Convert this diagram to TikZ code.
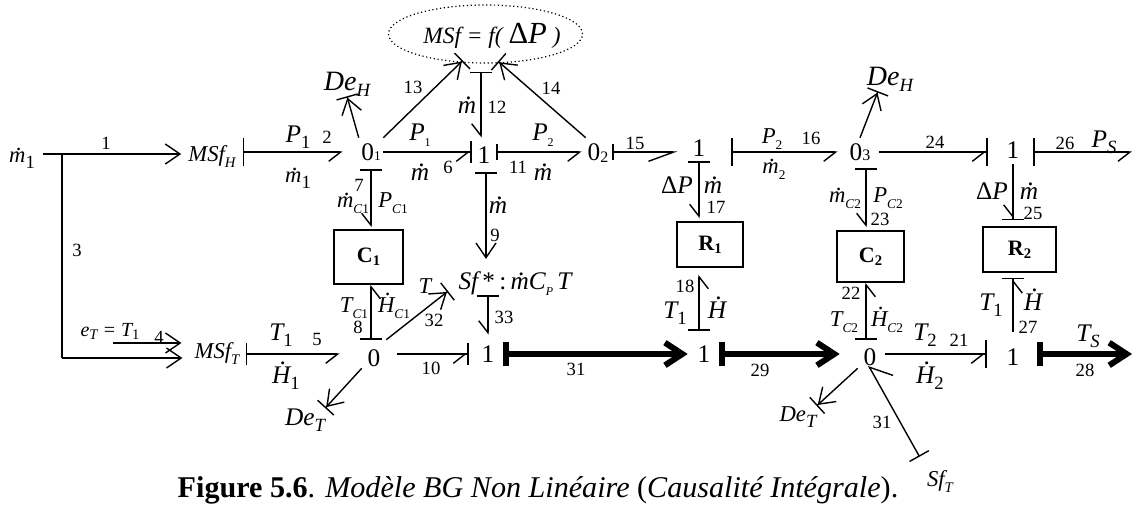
\documentclass[tikz,border=0pt]{standalone}
\usepackage{fontspec}
\setmainfont{Liberation Serif}
\usetikzlibrary{arrows.meta,shapes.geometric}
\def\px{0.75pt}
\newcommand{\dt}[2][.52em]{\ooalign{#2\crcr\hidewidth\kern.12em{\upshape\raisebox{#1}{.}}\hidewidth\crcr}}
\newcommand{\ix}[2][14]{\raisebox{-4.5pt}{\fontsize{#1}{#1}\selectfont #2}}
\newcommand{\ixu}[2][14]{\ix[#1]{\upshape #2}}
\newcommand{\ixb}[1]{\raisebox{-2.5pt}{\fontsize{11}{11}\selectfont #1}}
\newcommand{\ixz}[2][10]{{\fontsize{#1}{#1}\selectfont #2}}
\newcommand{\Hd}{\dt[.74em]{H}}
\newcommand{\md}{\dt{m}}

\begin{document}
\begin{tikzpicture}[x=0.75pt, y=-0.75pt,
    hb/.tip={Straight Barb[harpoon, swap, length=9pt, width=14pt, sep=0pt]},
    hbl/.tip={Straight Barb[harpoon, swap, length=19pt, width=14pt, sep=0pt]},
    hbw/.tip={Straight Barb[harpoon, swap, length=14pt, width=25pt, sep=0pt]},
    fb/.tip={Straight Barb[length=11pt, width=15pt, sep=0pt]},
    st/.tip={Bar[width=16.5pt, sep=0pt]},
    stl/.tip={Bar[width=21pt, sep=0pt]},
    sts/.tip={Bar[width=12pt, sep=0pt]},
    tk/.tip={Straight Barb[length=13pt, width=17pt, sep=0pt]},
    tks/.tip={Bar[width=18pt, line width=4.5pt, sep=0pt]},
    bond/.style={draw=black, line width=1.05pt},
    thk/.style={draw=black, line width=4.5pt},
    sa/.style={shorten <=#1*\px},
    sb/.style={shorten >=#1*\px},
    jn/.style={font=\fontsize{19}{19}\selectfont, inner sep=0pt, text height=12.5pt,
               text depth=0pt, minimum width=24*\px, minimum height=28*\px},
    elem/.style={draw=black, line width=1.05pt, inner sep=0pt,
                 font=\fontsize{16.5}{16.5}\selectfont\bfseries},
    num/.style={font=\fontsize{14}{14}\selectfont, inner sep=0pt},
    sym/.style={font=\fontsize{19}{19}\selectfont\itshape, inner sep=0pt, anchor=base},
    msym/.style={font=\fontsize{17}{17}\selectfont\itshape, inner sep=0pt, anchor=base},
    big/.style={font=\fontsize{21}{21}\selectfont\itshape, inner sep=0pt, anchor=base}]
  \useasboundingbox (0,0) rectangle (1132,504);
  % --- junctions ------------------------------------------------------------
  \foreach \nm/\x/\y/\txt in {j01/371/152/{0\ixz{1}}, j1c/484/152/{\raisebox{-2pt}{1}},
      j02/598/152/{0\raisebox{-1.5pt}{\ixz[12]{2}}}, j1r/699/152/{\raisebox{3pt}{1}}, j03/860/152/{0\ixz[12]{3}},
      j1s/1013/152/{\raisebox{1.5pt}{1}}, j0a/374/354/{\raisebox{-3pt}{0}},
      j1b/488/354/{1}, j1d/704/354/{1}, j0b/870/354/{\raisebox{-2.5pt}{0}},
      j1e/1013/354/{\raisebox{-2.5pt}{1}}} {
    \node[jn] (\nm) at (\x,\y) {\txt}; }
  % --- elements -------------------------------------------------------------
  \node[elem, minimum width=69*\px, minimum height=54*\px] (c1) at (368.5,257) {C\ixb{1}};
  \node[elem, minimum width=67*\px, minimum height=51*\px] (c2) at (870.5,256.5) {C\ixb{2}};
  \node[elem, minimum width=66*\px, minimum height=45*\px] (r1) at (710,244.5) {R\ixb{1}};
  \node[elem, minimum width=73*\px, minimum height=45*\px] (r2) at (1019.5,249.5) {R\ixb{2}};
  \node[ellipse, draw=black, dotted, line width=0.9pt, inner sep=0pt,
        minimum width=194*\px, minimum height=58*\px] (ell) at (485.5,34) {};
  \node[sym, font=\fontsize{17.5}{17.5}\selectfont\itshape] (ellT) at (492,43)
    {MSf = f( {\fontsize{23}{23}\selectfont\upshape Δ\itshape P} )};
  \node[msym] (m1) at (22,162) {\md\ixu{1}};
  \node[msym] (msfH) at (212,161) {MSf\ix[11]{H}};
  \node[msym] (msfT) at (217,358) {MSf\ix[11]{T}};
  \node[big] (deHa) at (347,90) {De\ix[14]{H}};
  \node[big] (deHb) at (890,85) {De\ix[14]{H}};
  \node[sym] (deTa) at (305,425) {De\ix[14]{T}};
  \node[msym] (deTb) at (798,421) {De\ix[14]{T}};
  \node[msym] (sfT) at (940,486) {Sf\ix[11]{T}};
  \node[sym] (sfs) at (515,289) {Sf\,{\upshape *}\,{\upshape :}\,\md C\ix[9]{P}\,T};
  \coordinate (jm) at (62,154);
  \coordinate (cr3) at (62,358);
  \coordinate (et4) at (113,343);
  \coordinate (endPS) at (1132,152);
  \coordinate (endTS) at (1132,354);
  % --- top row --------------------------------------------------------------
  \draw[bond, -fb, sa=8, sb=7] (m1.east |- jm) -- (msfH.west |- jm);
  \draw[bond, {stl[]}-hb, sa=7, sb=16] (msfH.east |- j01) -- (j01.west);
  \draw[bond, -{hb[]st[]}] (j01.east) -- (j1c.west);
  \draw[bond, {sts[]}-hb, sb=4] (j1c.east) -- (j02.west);
  \draw[bond, {sts[]}-hbl, sa=2, sb=9] (j02.east) -- (j1r.west);
  \draw[bond, {stl[]}-hb, sa=20, sb=10] (j1r.east) -- (j03.west);
  \draw[bond, -{hb[]stl[]}, sa=7, sb=13] (j03.east) -- (j1s.west);
  \draw[bond, {stl[]}-hb, sa=8] (j1s.east) -- (endPS);
  % --- feed of the lower row ------------------------------------------------
  \draw[bond] (jm) -- (cr3);
  \draw[bond, -fb, sb=12] (cr3) -- (msfT.west |- cr3);
  \draw[bond, -fb, sb=13] (et4) -- (msfT.west |- et4);
  % --- lower row ------------------------------------------------------------
  \draw[bond, {st[]}-hb, sa=6, sb=22] (msfT.east |- j0a) -- (j0a.west);
  \draw[bond, -{hb[]st[]}, sa=11, sb=7] (j0a.east) -- (j1b.west);
  \draw[thk, {tks[]}-tk, sa=3, sb=4] (j1b.east) -- (j1d.west);
  \draw[thk, {tks[]}-tk, sa=3, sb=18] (j1d.east) -- (j0b.west);
  \draw[bond, -{hb[]stl[]}, sa=3, sb=14] (j0b.east) -- (j1e.west);
  \draw[thk, {tks[]}-tk, sa=12] (j1e.east) -- (endTS);
  % --- verticals ------------------------------------------------------------
  \draw[bond, {st[]}-hb, sa=3, sb=2] (j01.south) -- (j01.south |- c1.north);
  \draw[bond, {st[]}-hb] (j01 |- j0a.north) -- (j01 |- c1.south);
  \draw[bond, {st[]}-hb, sa=8] ([xshift=-2.25pt]j1c.center |- ell.south) -- ([xshift=-2.25pt]j1c.north);
  \draw[bond, {st[]}-fb, sa=6, sb=12] ([xshift=1.5pt]j1c.south) -- ([xshift=1.5pt]j1c.south |- sfs.north);
  \draw[bond, {st[]}-hb, sb=5] (j1b |- sfs.south) -- (j1b.north);
  \draw[bond, {st[]}-hb, sa=-5, sb=3] (j1r.south) -- (j1r.south |- r1.north);
  \draw[bond, {st[]}-hb, sa=9, sb=7] (j1r |- j1d.north) -- (j1r |- r1.south);
  \draw[bond, {st[]}-hb, sa=2, sb=3] ([xshift=4.5pt]j03.south) -- ([xshift=4.5pt]j03.south |- c2.north);
  \draw[bond, {st[]}-hb] ([xshift=-3pt]j0b.north) -- ([xshift=-3pt]j0b.north |- c2.south);
  \draw[bond, -{hb[]st[]}, sa=-2, sb=6] (j1s.south) -- (j1s.south |- r2.north);
  \draw[bond, -{hb[]st[]}, sa=8, sb=5] (j1e.north) -- (j1e.north |- r2.south);
  % --- diagonals ------------------------------------------------------------
  \draw[bond, -{fb[]st[]}] (j01.north west) -- (deHa.south);
  \draw[bond, -{fb[]st[]}, sb=-3] (j01.north east) -- (ell.229);
  \draw[bond, -{fb[]st[]}, sb=-3] (j02.north west) -- (ell.297);
  \draw[bond, -{fb[]st[]}, sb=13] (j0a.north east) -- (sfs.west);
  \draw[bond, -{fb[]st[]}] (j0a.south west) -- (deTa.north east);
  \draw[bond, -{fb[]st[]}] (j0b.south west) -- (deTb.north east);
  \draw[bond, -{fb[]st[]}] (j03.north) -- ([xshift=-9pt]deHb.south);
  \draw[bond, {st[]}-hbw, sa=15, sb=-3] (sfT.north west) -- (j0b.south);
  % --- bond numbers ---------------------------------------------------------
  \foreach \nm/\x/\y/\txt in {n1/106/143/1, n2/327/137/2, n3/77/250/3, n4/159/337/4, n5/317/339/5,
      n6/448/167/6, n7/359/185/7, n8/358/327/8, n9/495/235/9, n10/431/368/10, n11/518/167/11,
      n12/497/107/12, n13/413/87/13, n14/551/88/14, n15/635/143/15, n16/811/138/16, n17/716/207/17,
      n18/685/286/18, n21/959/340/21, n22/851/293/22, n23/880/219/23, n24/935/142/24, n25/1033/213/25,
      n26/1065/143/26, n27/1028/327/27, n28/1085/370/28, n29/760/370/29, n31a/576/369/31,
      n31b/882/422/31, n32/434/320/32, n33/504/317/33} {
    \node[num] (\nm) at (\x,\y) {\txt}; }
  % --- effort and flow labels -----------------------------------------------
  \foreach \nm/\x/\y/\txt in {lP1/298/142/{P\ixu{1}}, lPa/420/140/{P\ixu[9]{1}}, lPb/543/140/{P\ixu[9]{2}},
      lT1/281/340/{T\ixu{1}}, lH1/286/383/{\Hd\ixu{1}}, lT2/925/340/{T\ixu{2}}, lH2/930/383/{\Hd\ixu{2}},
      lDa/677/193/{{\upshape Δ}P}, lDb/992/199/{{\upshape Δ}P}, lTb/675/318/{T\ixu{1}}, lHb/717/318/{\Hd},
      lTc/991/310/{T\ixu{1}}, lHc/1033/310/{\Hd}, lTS/1088/341/{T\ix{S}}, lPS/1104/147/{P\ix{S}},
      lma/420/180/{\md}, lmb/543/180/{\md}, lmc/467/113/{\md}, lmd/498/213/{\md},
      lme/713/193/{\md}, lmf/1029/199/{\md}} {
    \node[sym] (\nm) at (\x,\y) {\txt}; }
  \foreach \nm/\x/\y/\txt in {lm1/298/182/{\md\ixu{1}}, lm2/774/173/{\md\ixu[10]{2}},
      lmC/353/207/{\md\ix[10]{C}\ixu[10]{1}}, lPC/393/207/{P\ix[10]{C}\ixu[10]{1}},
      lTC/354/312/{T\ix[10]{C}\ixu[10]{1}}, lHC/394/312/{\Hd\ix[10]{C}\ixu[10]{1}},
      lmE/845/202/{\md\ix[10]{C}\ixu[10]{2}}, lPE/888/202/{P\ix[10]{C}\ixu[10]{2}},
      lTE/844/326/{T\ix[10]{C}\ixu[10]{2}}, lHE/887/326/{\Hd\ix[10]{C}\ixu[10]{2}},
      lP2/772/143/{P\ixu[10]{2}}, lT/425/293/{T}} {
    \node[msym] (\nm) at (\x,\y) {\txt}; }
  \node[msym, font=\fontsize{15}{15}\selectfont\itshape] (lE) at (110,336) {e\ixb{T} = T\ixb{\upshape 1}};
  % --- caption --------------------------------------------------------------
  \node[sym, font=\fontsize{22.6}{22.6}\selectfont] (cap) at (538,497)
    {\textbf{Figure 5.6}. \textit{Modèle BG Non Linéaire} (\textit{Causalité Intégrale}).};
\end{tikzpicture}
\end{document}
